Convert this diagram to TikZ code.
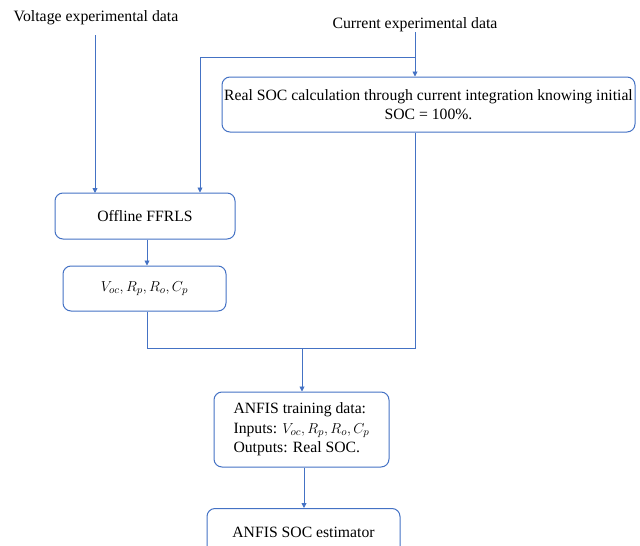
\documentclass[tikz,border=0pt]{standalone}
\usepackage{fontspec}
\setmainfont{Liberation Serif}
\usetikzlibrary{arrows.meta}
\definecolor{lblue}{HTML}{4472C4}
\begin{document}
\begin{tikzpicture}[x=1pt,y=-1pt,
  box/.style={draw=lblue,line width=1pt,rounded corners=8pt,inner sep=0pt},
  lbl/.style={font=\fontsize{15.8}{18}\selectfont,inner sep=0pt},
  conn/.style={draw=lblue,line width=0.9pt},
  arr/.style={conn,-{Triangle[length=5pt,width=5pt]}}]
\useasboundingbox (0,0) rectangle (640,546);
\begin{scope}
\clip (0,0) rectangle (640,546);
\node[lbl] (vt) at (96,18) {Voltage experimental data};
\node[lbl] (ct) at (415,25) {Current experimental data};
\node[box,minimum width=413pt,minimum height=55pt,align=center,font=\fontsize{15.7}{19}\selectfont] (soc) at (428.5,104.5) {Real SOC calculation through current integration knowing initial\\SOC = 100\%.};
\node[box,minimum width=180pt,minimum height=46pt,font=\fontsize{15.7}{18}\selectfont] (ff) at (145,216) {Offline FFRLS};
\node[box,minimum width=163pt,minimum height=45pt,font=\fontsize{15.7}{18}\selectfont] (par) at (144.5,288.5) {$V_{oc}, R_p, R_o, C_p$};
\node[box,minimum width=175pt,minimum height=75pt,align=left,font=\fontsize{15.7}{19.5}\selectfont] (tr) at (301.5,429.5) {ANFIS training data:\\Inputs: $V_{oc}, R_p, R_o, C_p$\\Outputs: Real SOC.};
\node[box,minimum width=193pt,minimum height=60pt,anchor=north,font=\fontsize{15.7}{18}\selectfont] (est) at (303.5,508) {\raisebox{12pt}{ANFIS SOC estimator}};
\end{scope}
\coordinate (b1) at (415,57);
\coordinate (b2) at (200,57);
\coordinate (c1) at (147,348);
\coordinate (c2) at (415,348);
\coordinate (j) at (302,348);
\draw[arr] (95,35) -- (95,193);
\draw[conn] (ct.south) -- (b1);
\draw[arr] (b1) -- (soc.north -| b1);
\draw[conn] (b1) -- (b2);
\draw[arr] (b2) -- (ff.north -| b2);
\draw[arr] (ff.south -| 147,0) -- (par.north -| 147,0);
\draw[conn] (par.south -| c1) -- (c1) -- (c2) -- (soc.south -| c2);
\draw[arr] (j) -- (tr.north -| j);
\draw[arr] (tr.south -| 304,0) -- (est.north -| 304,0);
\end{tikzpicture}
\end{document}
